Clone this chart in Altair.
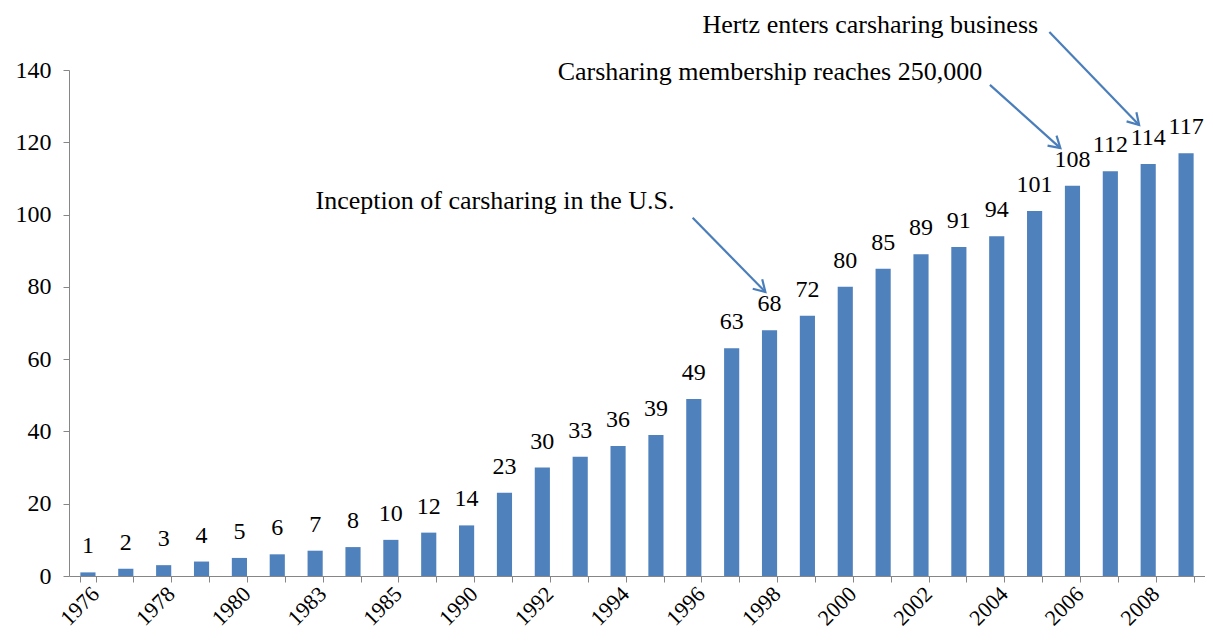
import altair as alt
import pandas as pd

years = ["1976", "1977", "1978", "1979", "1980", "1982", "1983", "1984", "1985", "1988",
         "1990", "1991", "1992", "1993", "1994", "1995", "1996", "1997", "1998", "1999",
         "2000", "2001", "2002", "2003", "2004", "2005", "2006", "2007", "2008", "2009"]
values = [1, 2, 3, 4, 5, 6, 7, 8, 10, 12, 14, 23, 30, 33, 36, 39, 49, 63, 68, 72,
          80, 85, 89, 91, 94, 101, 108, 112, 114, 117]
shown_labels = ["1976", "1978", "1980", "1983", "1985", "1990", "1992", "1994", "1996",
                "1998", "2000", "2002", "2004", "2006", "2008"]

# annotations (x in band-index units 0..30, y in data units)
ann_text = ["Hertz enters carsharing business",
            "Carsharing membership reaches 250,000",
            "Inception of carsharing in the U.S."]
ann_tx = [21.16, 18.51, 11.25]
ann_ty = [152.4, 139.5, 103.8]
arr_x1 = [25.89, 24.32, 16.47]
arr_y1 = [150.5, 135.9, 99.1]
arr_x2 = [28.26, 26.18, 18.39]
arr_y2 = [124.8, 118.4, 78.6]
arr_angle = [137, 132, 135]

FONT = "Liberation Serif"
BLUE = "#4F81BD"
ARROW = "#4A7EBB"
GREY = "#868686"

df = pd.DataFrame({"year": years, "value": values})
ann = pd.DataFrame({"text": ann_text, "tx": ann_tx, "ty": ann_ty,
                    "x1": arr_x1, "y1": arr_y1, "x2": arr_x2, "y2": arr_y2,
                    "angle": arr_angle})

yscale = alt.Scale(domain=[0, 140], nice=False)
label_list = "[" + ",".join("'%s'" % s for s in shown_labels) + "]"
noview = alt.ViewBackground(stroke="transparent", strokeWidth=0)

xenc = alt.X("year:N", sort=years, title=None,
             scale=alt.Scale(paddingInner=0.6, paddingOuter=0.3),
             axis=alt.Axis(labelAngle=-45, labelFont=FONT, labelFontSize=22,
                           labelColor="black", labelOverlap=False, labelPadding=1,
                           labelExpr="indexof(" + label_list + ", datum.label) >= 0 ? datum.label : ''",
                           tickBand="extent", tickColor=GREY, tickSize=6,
                           domainColor=GREY, grid=False))
yenc = alt.Y("value:Q", scale=yscale, title=None,
             axis=alt.Axis(values=list(range(0, 141, 20)), labelFont=FONT, labelFontSize=24,
                           labelColor="black", labelPadding=12, tickColor=GREY, tickSize=6,
                           domainColor=GREY, grid=False))

bars = alt.Chart(df).mark_bar(color=BLUE).encode(x=xenc, y=yenc)
labels = alt.Chart(df).mark_text(font=FONT, fontSize=24, baseline="alphabetic",
                                 dy=-19, color="black").encode(
    x=alt.X("year:N", sort=years), y=alt.Y("value:Q", scale=yscale), text="value:Q")

axq = alt.Scale(domain=[0, 30], nice=False, zero=False)
ann_texts = alt.Chart(ann).mark_text(font=FONT, fontSize=26, baseline="middle",
                                     color="black").encode(
    x=alt.X("tx:Q", scale=axq, axis=None),
    y=alt.Y("ty:Q", scale=yscale), text="text:N")
ann_rules = alt.Chart(ann).mark_rule(color=ARROW, strokeWidth=2.2).encode(
    x=alt.X("x1:Q", scale=axq, axis=None), x2="x2:Q",
    y=alt.Y("y1:Q", scale=yscale), y2="y2:Q")
ann_heads = alt.Chart(ann).mark_point(shape="M -0.6 1 L 0 0 L 0.6 1", filled=False,
                                      color=ARROW, strokeWidth=2.2, size=500, opacity=1).encode(
    x=alt.X("x2:Q", scale=axq, axis=None),
    y=alt.Y("y2:Q", scale=yscale), angle=alt.Angle("angle:Q", scale=None))

base_layer = alt.layer(bars, labels, view=noview)
ann_layer = alt.layer(ann_rules, ann_heads, ann_texts, view=noview)
chart = alt.layer(base_layer, ann_layer, view=noview).resolve_scale(x="independent").properties(
    width=1136, height=506,
    autosize=alt.AutoSizeParams(type="none"),
    padding={"left": 61, "top": 62, "right": 0, "bottom": 56}
).configure_view(stroke="transparent", strokeWidth=0).configure(background="white")

chart.save("out.html", embed_options={"renderer": "svg", "actions": False})
